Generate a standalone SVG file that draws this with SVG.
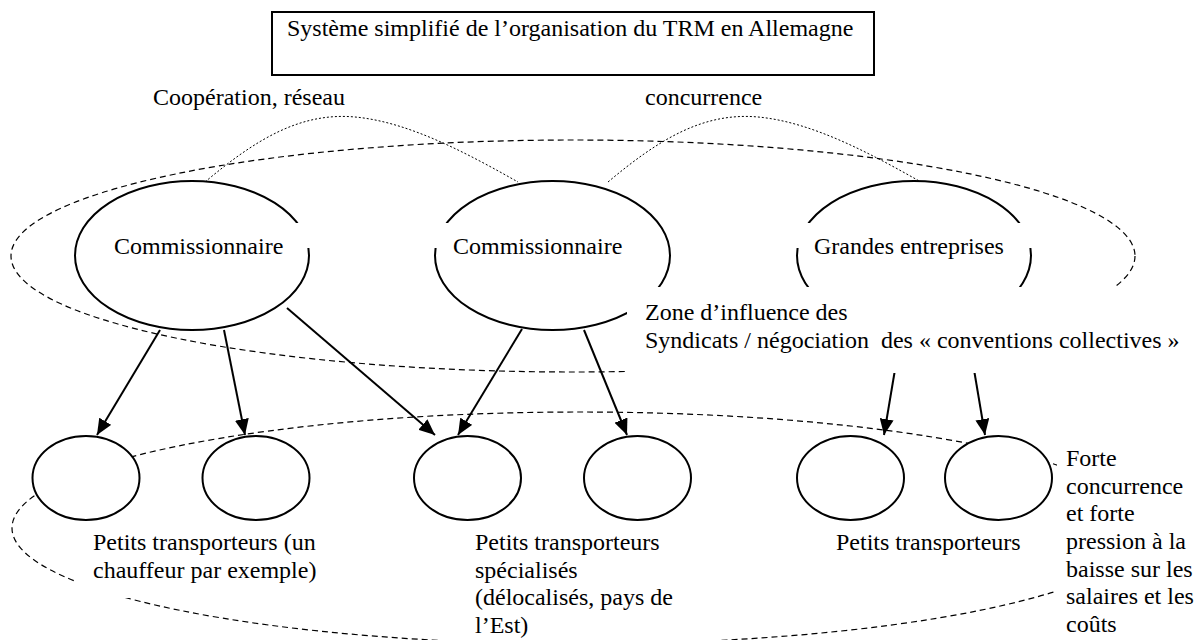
<svg xmlns="http://www.w3.org/2000/svg" width="1203" height="640" viewBox="0 0 1203 640">
<style>
text{font-family:"Liberation Serif","Times New Roman",serif;font-size:24px;fill:#000}
.node{fill:#fff;stroke:#000;stroke-width:2}
.zone{fill:none;stroke:#000;stroke-width:1.2;stroke-dasharray:6 4}
.dot{fill:none;stroke:#000;stroke-width:1;stroke-dasharray:2 2}
.arr{stroke:#000;stroke-width:2;fill:none;marker-end:url(#ah)}
.mask{fill:#fff;stroke:none}
</style>
<defs>
<marker id="ah" viewBox="0 0 16 14" refX="16" refY="7" markerWidth="16" markerHeight="14" orient="auto" markerUnits="userSpaceOnUse">
<path d="M0,0 L16,7 L0,14 Z" fill="#000"/>
</marker>
</defs>
<rect width="1203" height="640" fill="#fff"/>

<g id="title">
<rect x="272" y="12" width="602" height="63" fill="#fff" stroke="#000" stroke-width="2"/>
<text x="287" y="36">Système simplifié de l’organisation du TRM en Allemagne</text>
</g>

<g id="zones">
<ellipse class="zone" cx="573" cy="256" rx="562" ry="116"/>
<ellipse class="zone" cx="580" cy="528" rx="568" ry="116"/>
</g>

<g id="relations">
<path class="dot" d="M205,182 C255,140 300,112 355,117 C410,122 470,155 518,182"/>
<path class="dot" d="M608,182 C658,140 703,112 758,117 C813,122 873,155 921,182"/>
<text x="153" y="105">Coopération, réseau</text>
<text x="645" y="105">concurrence</text>
</g>

<g id="connectors">
<line class="arr" x1="160" y1="330" x2="97" y2="435"/>
<line class="arr" x1="224" y1="330" x2="245" y2="435"/>
<line class="arr" x1="287" y1="308" x2="435" y2="435"/>
<line class="arr" x1="522" y1="329" x2="458" y2="435"/>
<line class="arr" x1="584" y1="330" x2="627" y2="435"/>
<line class="arr" x1="902" y1="328" x2="884" y2="435"/>
<line class="arr" x1="967" y1="328" x2="985" y2="435"/>
</g>

<g id="commissionnaire1"><ellipse class="node" cx="192" cy="255.5" rx="117" ry="74.5"/></g>
<g id="commissionnaire2"><ellipse class="node" cx="552.5" cy="255.5" rx="117.5" ry="74.5"/></g>
<g id="grandes-entreprises"><ellipse class="node" cx="914" cy="255.5" rx="117" ry="74.5"/></g>

<g id="petit1"><ellipse class="node" cx="86" cy="478" rx="53.5" ry="42"/></g>
<g id="petit2"><ellipse class="node" cx="256" cy="478" rx="53.5" ry="42"/></g>
<g id="petit3"><ellipse class="node" cx="467.5" cy="478" rx="53.5" ry="42"/></g>
<g id="petit4"><ellipse class="node" cx="637.5" cy="478" rx="53.5" ry="42"/></g>
<g id="petit5"><ellipse class="node" cx="850.5" cy="478" rx="53.5" ry="42"/></g>
<g id="petit6"><ellipse class="node" cx="998.5" cy="478" rx="53.5" ry="42"/></g>

<g id="labels">
<rect class="mask" x="292" y="223" width="158" height="25"/>
<rect class="mask" x="785" y="223" width="260" height="25"/>
<text x="114" y="254">Commissionnaire</text>
<text x="453" y="254">Commissionnaire</text>
<text x="814" y="254">Grandes entreprises</text>

<rect class="mask" x="627" y="287" width="565" height="86"/>
<text x="645" y="320">Zone d’influence des</text>
<text x="645" y="348" style="white-space:pre">Syndicats / négociation  des « conventions collectives »</text>

<rect class="mask" x="75" y="524" width="255" height="74"/>
<text x="93" y="550">Petits transporteurs (un</text>
<text x="93" y="578">chauffeur par exemple)</text>

<text x="475" y="550">Petits transporteurs</text>
<text x="475" y="578">spécialisés</text>
<text x="475" y="605">(délocalisés, pays de</text>
<text x="475" y="633">l’Est)</text>

<text x="836" y="550">Petits transporteurs</text>

<rect class="mask" x="1057" y="440" width="146" height="200"/>
<text x="1066" y="466">Forte</text>
<text x="1066" y="494">concurrence</text>
<text x="1066" y="521">et forte</text>
<text x="1066" y="549">pression à la</text>
<text x="1066" y="577">baisse sur les</text>
<text x="1066" y="604">salaires et les</text>
<text x="1066" y="632">coûts</text>
</g>
</svg>
